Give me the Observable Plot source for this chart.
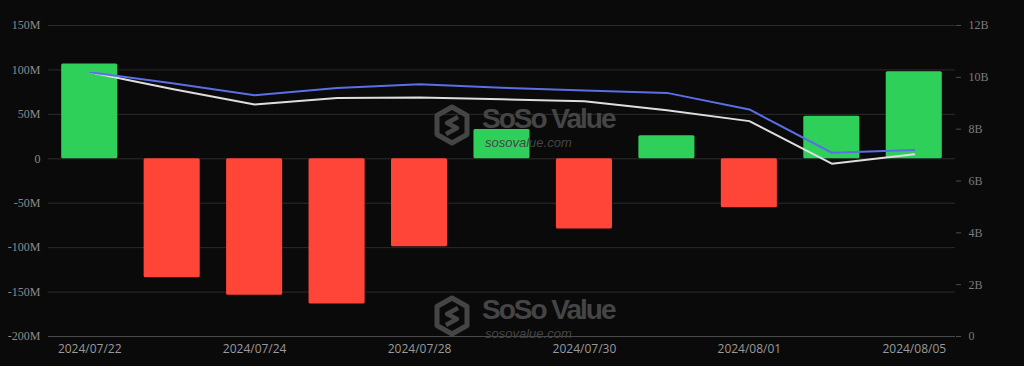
<!DOCTYPE html>
<html><head><meta charset="utf-8">
<script src="https://cdn.jsdelivr.net/npm/d3@7"></script>
<script src="https://cdn.jsdelivr.net/npm/@observablehq/plot@0.6"></script>
<style>
html,body{margin:0;padding:0;background:#0a0a0a;}
#wrap{position:relative;width:1024px;height:366px;overflow:hidden;background:#0a0a0a}
.wm{position:absolute;color:#454545;font-family:"Liberation Sans",Arial,sans-serif;pointer-events:none;white-space:nowrap}
.wm.big{font-weight:700;font-size:28px;letter-spacing:-2px;line-height:28px}
.wm.small{font-style:italic;font-size:13px;line-height:13px}
.logo{position:absolute;pointer-events:none}
</style></head><body><div id="wrap"></div>
<script>
// Categories (trading days)
const dates = ["2024/07/22","2024/07/23","2024/07/24","2024/07/25","2024/07/28","2024/07/29","2024/07/30","2024/07/31","2024/08/01","2024/08/02","2024/08/05"];
// Daily net inflow, millions USD (left axis)
const netInflow = [106.6,-134,-153.5,-163.5,-99,33,-79,26,-55,48,98];
// Line series, billions USD (right axis)
const blueLine  = [10.2,9.77,9.31,9.59,9.73,9.6,9.49,9.4,8.76,7.09,7.2];
const whiteLine = [10.2,9.55,8.95,9.2,9.22,9.15,9.08,8.73,8.31,6.67,7.03];
// Tick labels
const leftTicks = [-200,-150,-100,-50,0,50,100,150];
const rightTicks = [0,2,4,6,8,10,12];
const xTickLabels = ["2024/07/22","2024/07/24","2024/07/28","2024/07/30","2024/08/01","2024/08/05"];

const LMIN = -200, LMAX = 150, RMAX = 12;
const toLeft = b => LMIN + b * (LMAX - LMIN) / RMAX;
const fromLeft = v => Math.round((v - LMIN) * RMAX / (LMAX - LMIN));

const bars = dates.map((d, i) => ({date: d, v: netInflow[i]}));
const lines = dates.flatMap((d, i) => [
  {date: d, s: "blue", v: toLeft(blueLine[i])},
  {date: d, s: "white", v: toLeft(whiteLine[i])}
]);

const chart = Plot.plot({
  width: 1024,
  height: 366,
  marginLeft: 48,
  marginRight: 69,
  marginTop: 25,
  marginBottom: 30,
  style: {background: "#0a0a0a", color: "#8a8a8a"},
  x: {domain: dates, paddingInner: 0.32, paddingOuter: 0.16, round: false, label: null},
  y: {domain: [LMIN, LMAX], label: null},
  color: {type: "identity"},
  marks: [
    Plot.gridY(leftTicks.filter(t => t !== LMIN), {stroke: "#2c2c2c", strokeOpacity: 1}),
    Plot.ruleY([LMIN], {stroke: "#4a4a4a"}),
    Plot.barY(bars, {x: "date", y: "v", fill: d => d.v >= 0 ? "#2fd05a" : "#ff4438", rx: 1.5}),
    Plot.lineY(lines.filter(d => d.s === "white"), {x: "date", y: "v", stroke: "#dedede", strokeWidth: 2}),
    Plot.lineY(lines.filter(d => d.s === "blue"), {x: "date", y: "v", stroke: "#5a6fe6", strokeWidth: 2}),
    Plot.axisY(leftTicks, {anchor: "left", tickSize: 0, tickPadding: 8, label: null,
      tickFormat: d => d === 0 ? "0" : d + "M", fontFamily: "Liberation Serif", fontSize: 12, color: "#8a8a8a"}),
    Plot.axisY(rightTicks.map(toLeft), {anchor: "right", tickSize: 5, tickPadding: 8, label: null,
      tickFormat: d => { const b = fromLeft(d); return b === 0 ? "0" : b + "B"; },
      fontFamily: "Liberation Serif", fontSize: 12, color: "#7a7a7a", strokeOpacity: 0.6}),
    Plot.axisX(xTickLabels, {anchor: "bottom", tickSize: 0, tickPadding: 8, label: null,
      fontFamily: "Open Sans", fontSize: 12, color: "#9a9a9a"})
  ]
});
const wrap = document.getElementById("wrap");
wrap.appendChild(chart);

function logo(x, y) {
  const ns = "http://www.w3.org/2000/svg";
  const s = document.createElementNS(ns, "svg");
  s.setAttribute("width", 38); s.setAttribute("height", 42);
  s.setAttribute("viewBox", "0 0 38 42");
  s.setAttribute("class", "logo");
  s.style.left = x + "px"; s.style.top = y + "px";
  s.innerHTML = '<path d="M19 3 L34 11.5 L34 30.5 L19 39 L4 30.5 L4 11.5 Z" fill="none" stroke="#454545" stroke-width="5" stroke-linejoin="round"/>' +
    '<path d="M25 13 L14 19 L24 24 L13 30" fill="none" stroke="#454545" stroke-width="4.5" stroke-linejoin="round"/>';
  wrap.appendChild(s);
}
function mark(x, baseline) {
  const b = document.createElement("div");
  b.className = "wm big";
  b.style.left = x + "px"; b.style.top = (baseline - 23.7) + "px";
  b.textContent = "SoSo Value";
  wrap.appendChild(b);
  const s = document.createElement("div");
  s.className = "wm small";
  s.style.left = (x + 3) + "px"; s.style.top = (baseline + 18 - 11) + "px";
  s.textContent = "sosovalue.com";
  wrap.appendChild(s);
}
logo(433, 104); mark(482, 129);
logo(433, 295); mark(482, 320);
</script>
</body></html>
